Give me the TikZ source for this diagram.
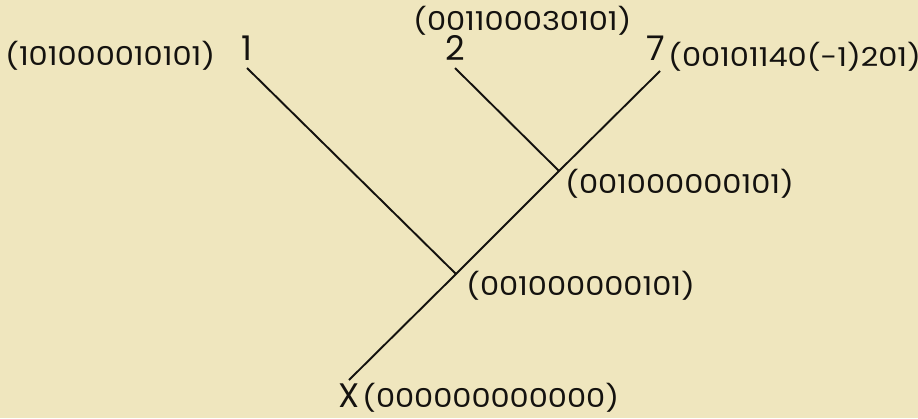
\documentclass[tikz,border=0pt]{standalone}
\usepackage{fontspec}
\setmainfont{Poppins}
\newfontfamily\widefont[FakeStretch=1.17]{Poppins}
\definecolor{paper}{RGB}{239,230,190}
\definecolor{ink}{RGB}{20,18,15}
\begin{document}
\begin{tikzpicture}[x=1pt,y=-1pt,
  lbl/.style={inner sep=0pt,text=ink,font=\widefont\fontsize{26}{26}\selectfont},
  big/.style={inner sep=0pt,text=ink,font=\fontsize{34}{34}\selectfont},
  edge/.style={draw=ink,line width=1.9pt}]
\fill[paper] (0,0) rectangle (918,418);
\useasboundingbox (0,0) rectangle (918,418);
% leaves
\node[big] (n1) at (247,48) {1};
\node[big] (n2) at (455,48) {2};
\node[big] (n7) at (656,48) {7};
\node[big] (nx) at (349,396) {X};
% junctions
\coordinate (t1) at (247,68);
\coordinate (t2) at (455,68);
\coordinate (t7) at (660,71);
\coordinate (j1) at (559,171);
\coordinate (j2) at (456,274);
\coordinate (r) at (349,380);
\draw[edge] (t1) -- (j2);
\draw[edge] (t2) -- (j1);
\draw[edge] (t7) -- (j1) -- (j2) -- (r);
% labels
\node[lbl,anchor=west] (l1) at (5,56) {(101000010101)};
\node[lbl,anchor=west] (l2) at (413,21) {(001100030101)};
\node[lbl,anchor=west] (l7) at (668,57) {(00101140(-1)201)};
\node[lbl,anchor=west] (lj1) at (565,184) {(001000000101)};
\node[lbl,anchor=west] (lj2) at (466,286) {(001000000101)};
\node[lbl,anchor=west] (lx) at (362,398) {(000000000000)};
\end{tikzpicture}
\end{document}
